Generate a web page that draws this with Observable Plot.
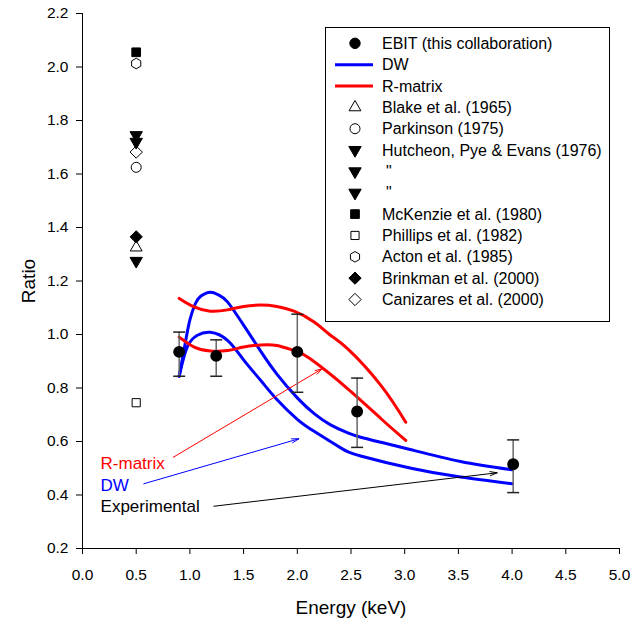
<!DOCTYPE html>
<html>
<head>
<meta charset="utf-8">
<script src="https://cdn.jsdelivr.net/npm/d3@7"></script>
<script src="https://cdn.jsdelivr.net/npm/@observablehq/plot@0.6"></script>
<style>
  html, body { margin: 0; padding: 0; background: #fff; }
  #wrap { position: relative; width: 636px; height: 627px; }
  #wrap svg { display: block; }
  #legend { position: absolute; }
</style>
</head>
<body>
<div id="wrap"></div>
<script>
// ---------- data ----------
const xTicks = [0, 0.5, 1, 1.5, 2, 2.5, 3, 3.5, 4, 4.5, 5];
const yTicks = [0.2, 0.4, 0.6, 0.8, 1.0, 1.2, 1.4, 1.6, 1.8, 2.0, 2.2];

// EBIT measurements
const ebitEnergy = [0.90, 1.245, 2.0, 2.557, 4.01];
const ebitRatio  = [0.935, 0.92, 0.935, 0.712, 0.515];
const ebitLow    = [0.844, 0.844, 0.784, 0.578, 0.409];
const ebitHigh   = [1.009, 0.98, 1.076, 0.837, 0.606];

// solar / earlier measurements (all at 0.5 keV)
const solarSource = ["Blake et al. (1965)", "Parkinson (1975)", "Hutcheon, Pye & Evans (1976)", "Hutcheon2", "Hutcheon3",
                     "McKenzie et al. (1980)", "Phillips et al. (1982)", "Acton et al. (1985)", "Brinkman et al. (2000)", "Canizares et al. (2000)"];
const solarEnergy = [0.5, 0.5, 0.5, 0.5, 0.5, 0.5, 0.5, 0.5, 0.5, 0.5];
const solarRatio  = [1.325, 1.625, 1.745, 1.72, 1.275, 2.055, 0.745, 2.013, 1.365, 1.682];

// DW theory (two curves)
const dwHighE = [0.90, 0.96, 1.00, 1.05, 1.10, 1.19, 1.27, 1.35, 1.50, 1.66, 1.81, 2.00, 2.16, 2.31, 2.47, 2.59, 2.78, 3.06, 3.52, 4.00];
const dwHighR = [0.844, 0.975, 1.055, 1.115, 1.143, 1.158, 1.147, 1.122, 1.035, 0.937, 0.852, 0.763, 0.703, 0.662, 0.632, 0.616, 0.597, 0.569, 0.525, 0.494];
const dwLowE  = [0.90, 0.975, 1.07, 1.19, 1.35, 1.50, 1.66, 1.81, 2.00, 2.16, 2.40, 2.59, 3.06, 3.52, 4.00];
const dwLowR  = [0.844, 0.953, 0.997, 1.008, 0.978, 0.905, 0.828, 0.757, 0.683, 0.637, 0.577, 0.546, 0.50, 0.467, 0.442];

// R-matrix theory (two curves)
const rmHighE = [0.90, 1.04, 1.19, 1.35, 1.50, 1.66, 1.81, 1.97, 2.16, 2.30, 2.47, 2.78, 3.01];
const rmHighR = [1.135, 1.103, 1.087, 1.092, 1.105, 1.11, 1.105, 1.087, 1.046, 1.0, 0.946, 0.809, 0.672];
const rmLowE  = [0.90, 1.04, 1.19, 1.35, 1.50, 1.66, 1.81, 1.97, 2.12, 2.47, 2.78, 3.01];
const rmLowR  = [0.99, 0.953, 0.938, 0.94, 0.953, 0.961, 0.959, 0.94, 0.909, 0.797, 0.685, 0.604];

// annotations
const noteText  = ["R-matrix", "DW", "Experimental"];
const noteX     = [0.168, 0.168, 0.168];
const noteY     = [0.517, 0.437, 0.356];
const noteColor = ["#ff0000", "#0000ff", "#000000"];
const arrowX1 = [0.845, 0.571, 1.223];
const arrowY1 = [0.541, 0.442, 0.358];
const arrowX2 = [2.232, 2.014, 3.861];
const arrowY2 = [0.872, 0.610, 0.483];

// ---------- styles ----------
const downTri = {draw(ctx, size) { const s = Math.sqrt(size * 4 / Math.sqrt(3)); const h = s * Math.sqrt(3) / 2;
  ctx.moveTo(0, h * 2 / 3); ctx.lineTo(s / 2, -h / 3); ctx.lineTo(-s / 2, -h / 3); ctx.closePath(); }};
const upTri = {draw(ctx, size) { const s = Math.sqrt(size * 4 / Math.sqrt(3)); const h = s * Math.sqrt(3) / 2;
  ctx.moveTo(0, -h * 2 / 3); ctx.lineTo(s / 2, h / 3); ctx.lineTo(-s / 2, h / 3); ctx.closePath(); }};
const diam = {draw(ctx, size) { const a = Math.sqrt(size / 2);
  ctx.moveTo(0, -a); ctx.lineTo(a, 0); ctx.lineTo(0, a); ctx.lineTo(-a, 0); ctx.closePath(); }};
const hexa = {draw(ctx, size) { const a = Math.sqrt(size / (1.5 * Math.sqrt(3)));
  for (let k = 0; k < 6; k++) { const t = Math.PI / 2 + k * Math.PI / 3; const px = a * Math.cos(t), py = a * Math.sin(t);
    if (k === 0) ctx.moveTo(px, py); else ctx.lineTo(px, py); } ctx.closePath(); }};
const sq = {draw(ctx, size) { const a = Math.sqrt(size) / 2; ctx.rect(-a, -a, 2 * a, 2 * a); }};
const circ = {draw(ctx, size) { const r = Math.sqrt(size / Math.PI); ctx.moveTo(r, 0); ctx.arc(0, 0, r, 0, 2 * Math.PI); }};
const cap = {draw(ctx, size) { const w = Math.sqrt(size / Math.PI); ctx.moveTo(-w, 0); ctx.lineTo(w, 0); }};

const styleOf = {
  "Blake et al. (1965)": {symbol: upTri, fill: "white", r: 4.4},
  "Parkinson (1975)": {symbol: circ, fill: "white", r: 5},
  "Hutcheon, Pye & Evans (1976)": {symbol: downTri, fill: "black", r: 4.6},
  "Hutcheon2": {symbol: downTri, fill: "black", r: 4.6},
  "Hutcheon3": {symbol: downTri, fill: "black", r: 4.6},
  "McKenzie et al. (1980)": {symbol: sq, fill: "black", r: 4.9},
  "Phillips et al. (1982)": {symbol: sq, fill: "white", r: 4.6},
  "Acton et al. (1985)": {symbol: hexa, fill: "white", r: 4.8},
  "Brinkman et al. (2000)": {symbol: diam, fill: "black", r: 4.9},
  "Canizares et al. (2000)": {symbol: diam, fill: "white", r: 4.9}
};

// ---------- tables ----------
const ebit = ebitEnergy.map((e, i) => ({energy: e, ratio: ebitRatio[i], low: ebitLow[i], high: ebitHigh[i]}));
const solar = solarSource.map((s, i) => ({source: s, energy: solarEnergy[i], ratio: solarRatio[i]}));
const toPts = (E, R) => E.map((e, i) => ({energy: e, ratio: R[i]}));
const curves = [
  {pts: toPts(dwHighE, dwHighR), color: "#0000ff"},
  {pts: toPts(dwLowE, dwLowR), color: "#0000ff"},
  {pts: toPts(rmHighE, rmHighR), color: "#ff0000"},
  {pts: toPts(rmLowE, rmLowR), color: "#ff0000"}
];
const notes = noteText.map((t, i) => ({text: t, x: noteX[i], y: noteY[i], color: noteColor[i]}));
const arrows = arrowX1.map((x, i) => ({x1: x, y1: arrowY1[i], x2: arrowX2[i], y2: arrowY2[i], color: noteColor[i]}));

const solarMarks = [];
const openFirst = solar.filter(d => styleOf[d.source].fill === "white").concat(solar.filter(d => styleOf[d.source].fill !== "white"));
for (const d of openFirst) {
  const st = styleOf[d.source];
  solarMarks.push(Plot.dot([d], {x: "energy", y: "ratio", symbol: st.symbol, r: st.r, fill: st.fill, stroke: "black", strokeWidth: 1}));
}

const chart = Plot.plot({
  width: 636, height: 627,
  marginLeft: 82, marginRight: 17, marginTop: 13, marginBottom: 79,
  style: {fontFamily: "'Liberation Sans', Arial, sans-serif", fontSize: "15.5px", color: "#000", background: "#fff", overflow: "visible"},
  x: {domain: [0, 5]},
  y: {domain: [0.2, 2.2]},
  marks: [
    Plot.axisX({ticks: xTicks, tickFormat: d3.format(".1f"), tickSize: 6, tickPadding: 14, label: null, stroke: "#000"}),
    Plot.axisY({ticks: yTicks, tickFormat: d3.format(".1f"), tickSize: 6, tickPadding: 8, label: null, stroke: "#000"}),
    Plot.ruleY([0.2], {stroke: "#000", strokeWidth: 1}),
    Plot.ruleX([0], {stroke: "#000", strokeWidth: 1}),
    Plot.text(["Energy (keV)"], {frameAnchor: "bottom", lineAnchor: "middle", textAnchor: "middle", dy: 59, fontSize: 19, fill: "#000"}),
    Plot.text(["Ratio"], {frameAnchor: "left", textAnchor: "middle", lineAnchor: "middle", dx: -54, rotate: -90, fontSize: 19, fill: "#000"}),
    ...curves.map(c => Plot.line(c.pts, {x: "energy", y: "ratio", stroke: c.color, strokeWidth: 3, curve: "natural"})),
    Plot.arrow(arrows, {x1: "x1", y1: "y1", x2: "x2", y2: "y2", stroke: "color", strokeWidth: 1, headLength: 11, headAngle: 32}),
    Plot.text(notes, {x: "x", y: "y", text: "text", fill: "color", textAnchor: "start", fontSize: 17}),
    Plot.ruleX(ebit, {x: "energy", y1: "low", y2: "high", stroke: "#666", strokeWidth: 1.5}),
    Plot.dot(ebit, {x: "energy", y: "low", symbol: cap, r: 6, stroke: "#222", strokeWidth: 1.5, fill: "none"}),
    Plot.dot(ebit, {x: "energy", y: "high", symbol: cap, r: 6, stroke: "#222", strokeWidth: 1.5, fill: "none"}),
    ...solarMarks,
    Plot.dot(ebit, {x: "energy", y: "ratio", symbol: circ, r: 5.2, fill: "#000", stroke: "#000"})
  ]
});
const wrap = document.getElementById("wrap");
wrap.appendChild(chart);

// ---------- legend ----------
const legendItems = [
  {label: "EBIT (this collaboration)", type: "dot", symbol: circ, fill: "black", r: 5.2},
  {label: "DW", type: "line", color: "#0000ff"},
  {label: "R-matrix", type: "line", color: "#ff0000"},
  {label: "Blake et al. (1965)", type: "dot", ...styleOf["Blake et al. (1965)"]},
  {label: "Parkinson (1975)", type: "dot", ...styleOf["Parkinson (1975)"]},
  {label: "Hutcheon, Pye & Evans (1976)", type: "dot", ...styleOf["Hutcheon, Pye & Evans (1976)"]},
  {label: "\"", type: "dot", ...styleOf["Hutcheon2"]},
  {label: "\"", type: "dot", ...styleOf["Hutcheon3"]},
  {label: "McKenzie et al. (1980)", type: "dot", ...styleOf["McKenzie et al. (1980)"]},
  {label: "Phillips et al. (1982)", type: "dot", ...styleOf["Phillips et al. (1982)"]},
  {label: "Acton et al. (1985)", type: "dot", ...styleOf["Acton et al. (1985)"]},
  {label: "Brinkman et al. (2000)", type: "dot", ...styleOf["Brinkman et al. (2000)"]},
  {label: "Canizares et al. (2000)", type: "dot", ...styleOf["Canizares et al. (2000)"]}
];
const LW = 285, LH = 295, rowH = 21.35, row0 = 16.3;
const leg = d3.select(wrap).append("svg").attr("id", "legend")
  .attr("width", LW).attr("height", LH)
  .style("left", "325px").style("top", "27px")
  .style("font-family", "'Liberation Sans', Arial, sans-serif").style("font-size", "16px");
leg.append("rect").attr("x", 0.5).attr("y", 0.5).attr("width", LW - 1).attr("height", LH - 1)
  .attr("fill", "#fff").attr("stroke", "#000").attr("stroke-width", 1);
legendItems.forEach((it, i) => {
  const cy = row0 + i * rowH;
  if (it.type === "line") {
    leg.append("line").attr("x1", 10).attr("x2", 48).attr("y1", cy).attr("y2", cy)
      .attr("stroke", it.color).attr("stroke-width", 3);
  } else {
    leg.append("path").attr("transform", `translate(30,${cy})`)
      .attr("d", d3.symbol(it.symbol, it.r * it.r * Math.PI)())
      .attr("fill", it.fill).attr("stroke", "#000").attr("stroke-width", 1);
  }
  leg.append("text").attr("x", it.label === "\"" ? 61 : 57).attr("y", cy).attr("dy", "0.35em")
    .attr("fill", "#000").text(it.label);
});
</script>
</body>
</html>
